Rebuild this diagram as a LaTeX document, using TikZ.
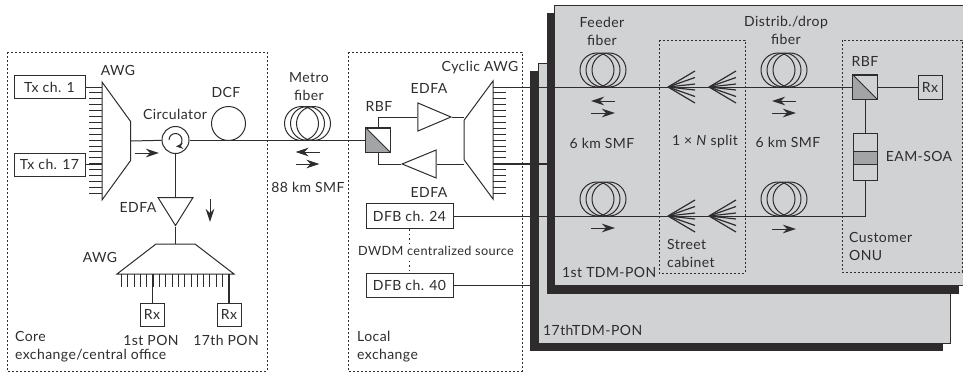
\documentclass[tikz,border=0pt]{standalone}
\usepackage{fontspec}
\setmainfont[LetterSpace=3]{Lato}
\usetikzlibrary{arrows.meta,shapes.geometric}
\definecolor{ink}{HTML}{2E2C2D}
\definecolor{panelgray}{HTML}{D1D2D4}
\definecolor{prismgray}{HTML}{A3A4A6}
\newcommand{\FiberCoil}[1]{\foreach \d in {-6,0,6} \draw[conn] ([xshift=\d pt]#1) circle[radius=17pt];}
\newcommand{\FanOut}[1]{\foreach \d in {-16,-9.5,-3,3,9.5,16} \draw[conn,line width=1.2pt] (#1) -- ([shift={(27pt,\d pt)}]#1);}
\begin{document}
\begin{tikzpicture}[x=1pt,y=-1pt,>=Stealth, conn/.style={draw=ink,line width=1pt}, box/.style={draw=ink,line width=1pt,fill=white,inner sep=0pt,font=\fontsize{14}{17}\selectfont,text=ink}, panelbox/.style={box,fill=panelgray}, lbl/.style={inner sep=0pt,align=left,font=\fontsize{14}{18}\selectfont,text=ink}, region/.style={draw=ink,line width=1pt,dash pattern=on 2pt off 2pt}, goes/.style={draw=ink,line width=1pt,-{Stealth[length=13pt,width=8.5pt,inset=4pt]}}, awg/.style={draw=ink,line width=1pt,fill=white,trapezium,trapezium angle=45,trapezium stretches=true,inner sep=1pt}, amp/.style={draw=ink,line width=1pt,fill=white,isosceles triangle,isosceles triangle stretches=true,inner sep=1pt}, shadow/.style={fill=ink}, panel/.style={draw=ink,line width=1pt,fill=panelgray}]
\useasboundingbox (0,0) rectangle (963,372);
% the two PON panels
\path[shadow] (530,71) rectangle (943,351);
\path[panel] (538,63) rectangle (950,343);
\path[shadow] (547,13) rectangle (959,294);
\path[panel] (554,5) rectangle (964,285);
% dotted regions
\draw[region] (7,52) rectangle (267,371);
\draw[region] (348,52) rectangle (522,371);
\draw[region] (659,40) rectangle (745,273);
\draw[region] (842,40) rectangle (962,272);
% core exchange
\node[box,minimum width=71pt,minimum height=23pt] (T1) at (49.5,87) {Tx ch. 1};
\node[box,minimum width=71pt,minimum height=23pt] (T17) at (49.5,164.5) {Tx ch. 17};
\node[awg,rotate=-90,minimum width=118pt,minimum height=28.5pt] (AWGT) at (116.25,141) {};
\node[draw=ink,line width=1pt,circle,minimum size=27pt,inner sep=0pt] (CIRC) at (175.5,140) {};
\draw[conn,-{Stealth[length=7pt,width=6pt]}] ([xshift=-6.5pt]CIRC.center) arc[start angle=180,end angle=-85,radius=6.5pt];
\node[draw=ink,line width=1pt,circle,minimum size=34pt,inner sep=0pt] (DCF) at (228.5,123.5) {};
\coordinate (METRO) at (307.5,123.5);
\FiberCoil{METRO}
\node[amp,shape border rotate=-90,minimum width=35pt,minimum height=28pt] (EDFAD) at (175.5,207) {};
\node[awg,minimum width=117pt,minimum height=30pt] (AWGR) at (175.5,259) {};
\foreach \k in {0,...,18} \draw[conn] (89,{87+5.9*\k}) -- (102,{87+5.9*\k});
\foreach \k in {0,...,17} \draw[conn] ({121.5+6.32*\k},274) -- ({121.5+6.32*\k},287);
\node[box,minimum width=24pt,minimum height=23pt] (RX1) at (152,314.5) {Rx};
\node[box,minimum width=24pt,minimum height=23pt] (RX17) at (229,314.5) {Rx};
\coordinate (TA) at (102,87);
\coordinate (TB) at (102,164.5);
\coordinate (RA) at (152,274);
\coordinate (RB) at (229,274);
\draw[conn] (T1) -- (TA);
\draw[conn] (T17) -- (TB);
\draw[conn] (RA) -- (RX1);
\draw[conn,line width=1.5pt] (RB) -- (RX17);
\draw[conn] (AWGT.top side) -- (CIRC);
\draw[conn] (CIRC) -- (EDFAD.lower side);
\draw[conn] (EDFAD.apex) -- (AWGR.top side);
% local exchange
\node[box,minimum size=24pt] (RBFL) at (378,140) {};
\fill[prismgray] (RBFL.north west) -- (RBFL.south east) -- (RBFL.south west) -- cycle;
\draw[conn] (RBFL.north west) -- (RBFL.south east);
\draw[conn] (RBFL.north west) rectangle (RBFL.south east);
\draw[conn] (CIRC) -- (RBFL);
\node[amp,minimum width=28pt,minimum height=33pt] (EDFAU) at (427,117) {};
\node[amp,shape border rotate=180,minimum width=28pt,minimum height=34pt] (EDFAB) at (427,164) {};
\node[awg,rotate=90,minimum width=118pt,minimum height=29pt] (AWGC) at (478.5,140) {};
\foreach \k in {0,...,18} \draw[conn] (493,{87+5.9*\k}) -- (506,{87+5.9*\k});
\coordinate (CA) at (464,117);
\coordinate (CB) at (464,164);
\draw[conn] (RBFL.north) |- (EDFAU.lower side);
\draw[conn] (RBFL.south) |- (EDFAB.apex);
\draw[conn] (EDFAU.apex) -- (CA);
\draw[conn] (EDFAB.lower side) -- (CB);
\node[box,minimum width=87pt,minimum height=25pt] (DFBA) at (409.5,216) {DFB ch. 24};
\node[box,minimum width=87pt,minimum height=24pt] (DFBB) at (409.5,285) {DFB ch. 40};
\draw[region,dash pattern=on 1.5pt off 3pt] (DFBA) -- (DFBB);
\node[lbl,fill=white,inner ysep=2pt,font=\fontsize{12.7}{18}\selectfont] (DWDM) at (436,251) {DWDM centralized source};
% street cabinet and customer
\coordinate (FT) at (603,70);
\coordinate (FB) at (603,199);
\coordinate (DT) at (784,70);
\coordinate (DB) at (784,199);
\FiberCoil{FT}
\FiberCoil{FB}
\FiberCoil{DT}
\FiberCoil{DB}
\coordinate (S1T) at (668,87);
\coordinate (S2T) at (709,87);
\coordinate (S1B) at (668,216);
\coordinate (S2B) at (709,216);
\FanOut{S1T}
\FanOut{S2T}
\FanOut{S1B}
\FanOut{S2B}
\node[panelbox,minimum size=24pt] (RBFO) at (865,87) {};
\fill[prismgray] (RBFO.north west) -- (RBFO.south east) -- (RBFO.south west) -- cycle;
\draw[conn] (RBFO.north west) -- (RBFO.south east);
\draw[conn] (RBFO.north west) rectangle (RBFO.south east);
\node[panelbox,minimum width=24pt,minimum height=24pt] (RXO) at (930,87) {Rx};
\node[panelbox,minimum width=24pt,minimum height=47pt] (EAM) at (865,156.5) {};
\draw[conn,fill=prismgray] (853,151) rectangle (877,164);
\coordinate (CT) at (493,87);
\coordinate (CL) at (493,164);
\coordinate (PL) at (547,164);
\coordinate (PB) at (530,285);
\draw[conn] (CT) -- (RBFO);
\draw[conn,line width=1.5pt] (CL) -- (PL);
\draw[conn] (RBFO) -- (RXO);
\draw[conn] (RBFO) -- (EAM);
\draw[conn] (DFBA) -| (EAM);
\draw[conn] (DFBB) -- (PB);
% direction arrows
\foreach \p in {(147,153),(307.5,164),(603,113),(603,228),(784,113),(784,229)} \draw[goes] \p ++(-12,0) -- ++(24,0);
\foreach \p in {(307.5,152),(603,101),(784,101)} \draw[goes] \p ++(12,0) -- ++(-24,0);
\coordinate (DN) at (210,199);
\draw[goes] (DN) -- ++(0,23);
% labels
\node[lbl] (L1) at (118,70) {AWG};
\node[lbl] (L2) at (175,114) {Circulator};
\node[lbl] (L3) at (226,92) {DCF};
\node[lbl,align=center] (L4) at (309,87) {Metro\\fiber};
\node[lbl] (L5) at (308,187) {88 km SMF};
\node[lbl] (L6) at (138,207) {EDFA};
\node[lbl] (L7) at (100,257) {AWG};
\node[lbl] (L8) at (151,340) {1st PON};
\node[lbl] (L9) at (226,340) {17th PON};
\node[lbl,anchor=north west] (L10) at (15,331) {Core\\exchange/central office};
\node[lbl] (L11) at (480,68) {Cyclic AWG};
\node[lbl] (L12) at (429,88) {EDFA};
\node[lbl] (L13) at (379,106) {RBF};
\node[lbl] (L14) at (429,192) {EDFA};
\node[lbl,anchor=north west] (L15) at (357,331) {Local\\exchange};
\node[lbl,align=center] (L16) at (602,31) {Feeder\\fiber};
\node[lbl,align=center] (L17) at (786,30) {Distrib./drop\\fiber};
\node[lbl] (L18) at (602,143) {6 km SMF};
\node[lbl] (L19) at (788,142) {6 km SMF};
\node[lbl] (L20) at (705,142) {1 × \textit{N} split};
\node[lbl] (L21) at (865,61) {RBF};
\node[lbl] (L22) at (919,156) {EAM-SOA};
\node[lbl,anchor=north west] (L23) at (849,232) {Customer\\ONU};
\node[lbl,anchor=north west] (L24) at (667,239) {Street\\cabinet};
\node[lbl,anchor=west] (L25) at (562,272) {1st TDM-PON};
\node[lbl,anchor=west] (L26) at (543,330) {17thTDM-PON};
\end{tikzpicture}
\end{document}
